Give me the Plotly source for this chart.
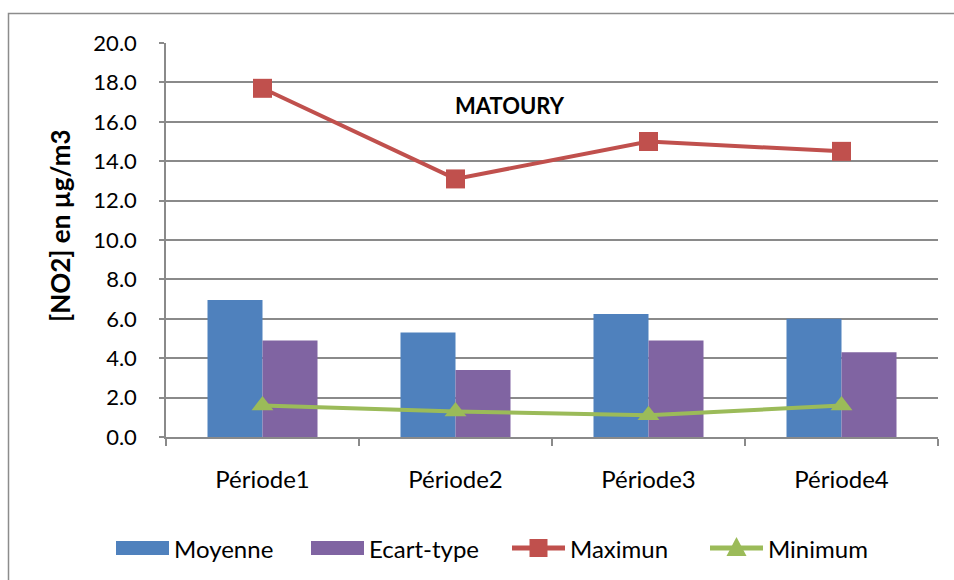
import plotly.graph_objects as go

periodes = ["Période1", "Période2", "Période3", "Période4"]
moyenne = [6.95, 5.3, 6.25, 6.0]
ecart_type = [4.9, 3.4, 4.9, 4.3]
maximun = [17.7, 13.1, 15.0, 14.5]
minimum = [1.6, 1.3, 1.1, 1.6]
y_ticks = [0, 2, 4, 6, 8, 10, 12, 14, 16, 18, 20]

FONT = "Lato, Calibri, sans-serif"
GRID = "#8a8a8a"
BLUE, PURPLE, RED, GREEN = "#4F81BD", "#8064A2", "#C0504D", "#9BBB59"

# plot-area geometry in pixels
W, H = 954, 580
L, R, T, B = 166, 16, 43, 143
pw, ph = W - L - R, H - T - B


def px_x(p):
    return (p - L) / pw


def px_y(p):
    return (H - B - p) / ph


fig = go.Figure()
fig.add_trace(go.Bar(x=periodes, y=moyenne, name="Moyenne",
                     marker=dict(color=BLUE, line=dict(width=0))))
fig.add_trace(go.Bar(x=periodes, y=ecart_type, name="Ecart-type",
                     marker=dict(color=PURPLE, line=dict(width=0))))
fig.add_trace(go.Scatter(x=periodes, y=maximun, name="Maximun", mode="lines+markers",
                         line=dict(color=RED, width=4),
                         marker=dict(symbol="square", size=19, color=RED)))
fig.add_trace(go.Scatter(x=periodes, y=minimum, name="Minimum", mode="lines+markers",
                         line=dict(color=GREEN, width=4),
                         marker=dict(symbol="triangle-up", size=19, color=GREEN)))

# legend drawn below the plot: swatch / line sample followed by the series name
LEG_Y = 548
legend_items = [
    ("Moyenne", "bar", BLUE, 116),
    ("Ecart-type", "bar", PURPLE, 311),
    ("Maximun", "square", RED, 512),
    ("Minimum", "triangle", GREEN, 710),
]
shapes = [
    dict(type="rect", xref="paper", yref="paper",
         x0=px_x(8.5), x1=px_x(970), y0=px_y(600), y1=px_y(13.5),
         line=dict(color="#8c8c8c", width=1.5), fillcolor="rgba(0,0,0,0)", layer="below"),
]
annotations = [
    dict(text="<b>MATOURY</b>", x=px_x(510), y=px_y(105), xref="paper", yref="paper",
         showarrow=False, font=dict(family=FONT, size=22), xanchor="center", yanchor="middle"),
    dict(text="<b>[NO2] en µg/m3</b>", x=px_x(60), y=px_y(226), xref="paper", yref="paper",
         showarrow=False, textangle=-90, font=dict(family=FONT, size=26),
         xanchor="center", yanchor="middle"),
]
for name, kind, color, x0 in legend_items:
    x1 = x0 + 53
    if kind == "bar":
        shapes.append(dict(type="rect", xref="paper", yref="paper",
                           x0=px_x(x0), x1=px_x(x1), y0=px_y(LEG_Y + 7), y1=px_y(LEG_Y - 7),
                           line=dict(width=0), fillcolor=color))
    else:
        shapes.append(dict(type="line", xref="paper", yref="paper",
                           x0=px_x(x0), x1=px_x(x1), y0=px_y(LEG_Y), y1=px_y(LEG_Y),
                           line=dict(color=color, width=5)))
        cx = (x0 + x1) / 2
        if kind == "square":
            shapes.append(dict(type="rect", xref="paper", yref="paper",
                               x0=px_x(cx - 9), x1=px_x(cx + 9),
                               y0=px_y(LEG_Y + 9), y1=px_y(LEG_Y - 9),
                               line=dict(width=0), fillcolor=color))
        else:
            path = (f"M {px_x(cx - 10)} {px_y(LEG_Y + 8)} "
                    f"L {px_x(cx + 10)} {px_y(LEG_Y + 8)} "
                    f"L {px_x(cx)} {px_y(LEG_Y - 11)} Z")
            shapes.append(dict(type="path", xref="paper", yref="paper", path=path,
                               line=dict(width=0), fillcolor=color))
    annotations.append(dict(text=name, x=px_x(x1 + 3), y=px_y(LEG_Y), xref="paper", yref="paper",
                            showarrow=False, xanchor="left", yanchor="middle",
                            font=dict(family=FONT, size=24)))

fig.update_layout(
    width=W, height=H,
    margin=dict(l=L, r=R, t=T, b=B, pad=0),
    paper_bgcolor="white", plot_bgcolor="white",
    barmode="group", bargap=0.43, bargroupgap=0,
    font=dict(family=FONT, size=22, color="black"),
    showlegend=False,
    xaxis=dict(showgrid=False, showline=True, linecolor=GRID, linewidth=1.5,
               ticks="outside", tickson="boundaries", ticklen=7, tickcolor=GRID, tickwidth=1.5,
               ticklabelstandoff=20, tickfont=dict(family=FONT, size=24)),
    yaxis=dict(range=[0, 20], tickvals=y_ticks, ticktext=[f"{v:.1f}" for v in y_ticks],
               showgrid=True, gridcolor=GRID, gridwidth=1.5, zeroline=False,
               showline=True, linecolor=GRID, linewidth=1.5,
               ticks="outside", ticklen=5, tickcolor=GRID, tickwidth=1.5,
               ticklabelstandoff=18, tickfont=dict(family=FONT, size=22)),
    annotations=annotations,
    shapes=shapes,
)

fig.write_html("out.html")
